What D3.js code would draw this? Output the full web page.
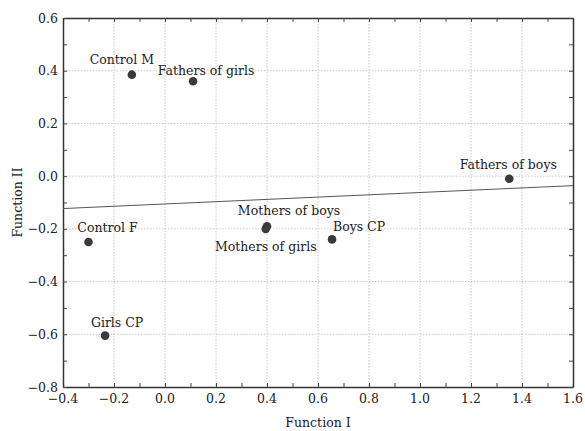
<!DOCTYPE html>
<html>
<head>
<meta charset="utf-8">
<script src="https://cdn.jsdelivr.net/npm/d3@7"></script>
<style>
  body { margin: 0; background: #fff; }
  text { font-family: "DejaVu Serif", serif; fill: #222; }
</style>
</head>
<body>
<div id="chart"></div>
<script>
// group centroids on the two discriminant functions
var groupNames = ["Control M", "Fathers of girls", "Fathers of boys", "Control F",
                  "Mothers of boys", "Mothers of girls", "Boys CP", "Girls CP"];
var functionI  = [-0.13, 0.11, 1.35, -0.30, 0.40, 0.395, 0.655, -0.235];
var functionII = [0.385, 0.36, -0.01, -0.25, -0.19, -0.20, -0.24, -0.605];

// label offsets (px) relative to each point
var labelDx = [-10, 13, -1, 19, 22, 0, 27, 12];
var labelDy = [-11, -6, -10, -10, -11, 22, -8, -9];

// separating line endpoints
var lineX = [-0.4, 1.6];
var lineY = [-0.123, -0.036];

var xTicks = [-0.4, -0.2, 0.0, 0.2, 0.4, 0.6, 0.8, 1.0, 1.2, 1.4, 1.6];
var yTicks = [-0.8, -0.6, -0.4, -0.2, 0.0, 0.2, 0.4, 0.6];

//============Set up chart=====================
var svgWidth = 585;
var svgHeight = 431;
var margin = { top: 18, right: 12, bottom: 44, left: 63 };
var width = 573 - margin.left;
var height = 387 - margin.top;
var fontSize = "12.5px";

var svg = d3.select("#chart").append("svg")
  .attr("width", svgWidth)
  .attr("height", svgHeight);

var chartGroup = svg.append("g")
  .attr("transform", `translate(${margin.left}, ${margin.top})`);

var xScale = d3.scaleLinear().domain([-0.4, 1.6]).range([0, width]);
var yScale = d3.scaleLinear().domain([-0.8, 0.6]).range([height, 0]);

var fmt = d => d3.format(".1f")(d).replace("-", "\u2212");

// gridlines
chartGroup.append("g").selectAll("line")
  .data(xTicks.slice(1, -1)).enter().append("line")
  .attr("x1", d => xScale(d)).attr("x2", d => xScale(d))
  .attr("y1", 0).attr("y2", height)
  .attr("stroke", "#c8c8c8").attr("stroke-dasharray", "1.5,1.5");

chartGroup.append("g").selectAll("line")
  .data(yTicks.slice(1, -1)).enter().append("line")
  .attr("y1", d => yScale(d)).attr("y2", d => yScale(d))
  .attr("x1", 0).attr("x2", width)
  .attr("stroke", "#c8c8c8").attr("stroke-dasharray", "1.5,1.5");

// minor ticks inside, all four sides
var xMinor = d3.range(-0.4, 1.6001, 0.1);
var yMinor = d3.range(-0.8, 0.6001, 0.1);

function addAxis(axis, transform, ticks) {
  var g = chartGroup.append("g")
    .attr("transform", transform)
    .call(axis.tickValues(ticks).tickSize(-4).tickSizeOuter(0).tickFormat(""));
  g.select(".domain").attr("stroke", "#333").attr("stroke-width", 1.5);
  g.selectAll(".tick line").attr("stroke", "#444");
  return g;
}

addAxis(d3.axisBottom(xScale), `translate(0, ${height})`, xMinor);
addAxis(d3.axisTop(xScale), "translate(0,0)", xMinor);
addAxis(d3.axisLeft(yScale), "translate(0,0)", yMinor);
addAxis(d3.axisRight(yScale), `translate(${width},0)`, yMinor);

// tick labels
chartGroup.append("g").selectAll("text")
  .data(xTicks).enter().append("text")
  .attr("x", d => xScale(d))
  .attr("y", height + 16)
  .attr("text-anchor", "middle")
  .style("font-size", fontSize)
  .text(fmt);

chartGroup.append("g").selectAll("text")
  .data(yTicks).enter().append("text")
  .attr("x", -5)
  .attr("y", d => yScale(d) + 4.5)
  .attr("text-anchor", "end")
  .style("font-size", fontSize)
  .text(fmt);

// separating line
chartGroup.append("line")
  .attr("x1", xScale(lineX[0])).attr("y1", yScale(lineY[0]))
  .attr("x2", xScale(lineX[1])).attr("y2", yScale(lineY[1]))
  .attr("stroke", "#555").attr("stroke-width", 1);

// points
chartGroup.append("g").selectAll("circle")
  .data(groupNames).enter().append("circle")
  .attr("cx", (d, i) => xScale(functionI[i]))
  .attr("cy", (d, i) => yScale(functionII[i]))
  .attr("r", 4.3)
  .attr("fill", "#3a3a3a");

// point labels
chartGroup.append("g").selectAll("text")
  .data(groupNames).enter().append("text")
  .attr("x", (d, i) => xScale(functionI[i]) + labelDx[i])
  .attr("y", (d, i) => yScale(functionII[i]) + labelDy[i])
  .attr("text-anchor", "middle")
  .style("font-size", fontSize)
  .text(d => d);

// axis titles
svg.append("text")
  .attr("x", margin.left + width / 2)
  .attr("y", 427)
  .attr("text-anchor", "middle")
  .style("font-size", fontSize)
  .text("Function I");

svg.append("text")
  .attr("transform", `translate(22, ${margin.top + height / 2}) rotate(-90)`)
  .attr("text-anchor", "middle")
  .style("font-size", fontSize)
  .text("Function II");
</script>
</body>
</html>
